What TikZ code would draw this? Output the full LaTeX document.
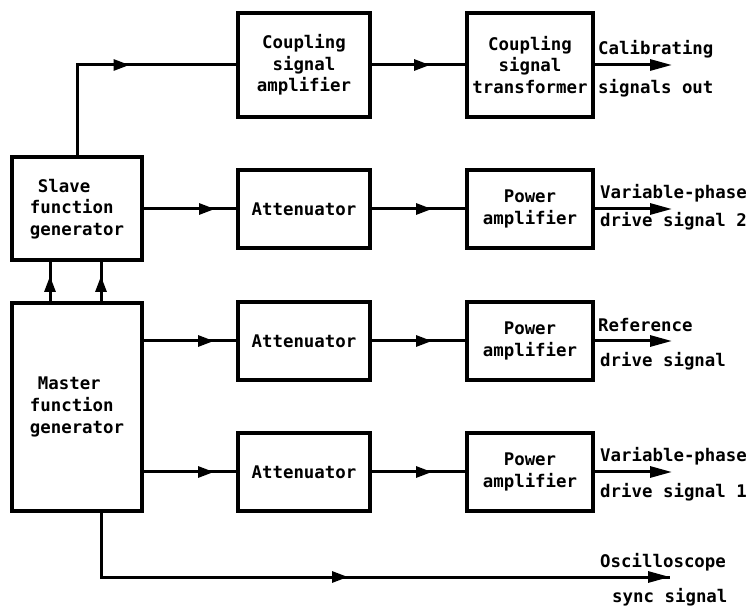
\documentclass[tikz,border=0pt]{standalone}
\usepackage{fontspec}
\setmainfont{DejaVu Sans Mono}
\usetikzlibrary{arrows.meta,positioning,decorations.markings}

\tikzset{
  block/.style={draw, line width=4pt, minimum width=132pt, minimum height=78pt,
                align=center, inner sep=2pt},
  wire/.style={line width=3pt},
  midarrow/.style={postaction={decorate}, decoration={markings,
                   mark=at position #1 with {\arrow{Triangle[length=16pt,width=11pt]}}}},
  outarrow/.style={wire, -{Triangle[length=22pt,width=11pt]}},
  lbl/.style={anchor=base west, inner sep=0pt}
}

\begin{document}
\begin{tikzpicture}[x=1pt, y=-1pt, font=\fontsize{17.4}{21.7}\selectfont\bfseries]
  \useasboundingbox (0,0) rectangle (750,609);

  % generators
  \node[block, minimum width=130pt, minimum height=103pt, align=left] (slave) at (77,209)
    {\hspace*{8pt}Slave\\function\\generator};
  \node[block, minimum width=130pt, minimum height=208pt, align=left] (master) at (77,407)
    {\hspace*{8pt}Master\\function\\generator};

  % top row
  \node[block, minimum height=104pt] (cpamp) at (304,65) {Coupling\\signal\\amplifier};
  \node[block, minimum width=126pt, minimum height=104pt] (cptrans) at (530,65)
    {Coupling\\signal\\transformer};

  % attenuators and power amplifiers
  \node[block] (att1) at (304,209) {Attenuator};
  \node[block, minimum width=126pt] (pa1) at (530,209) {Power\\amplifier};
  \node[block] (att2) at (304,341) {Attenuator};
  \node[block, minimum width=126pt] (pa2) at (530,341) {Power\\amplifier};
  \node[block] (att3) at (304,472) {Attenuator};
  \node[block, minimum width=126pt] (pa3) at (530,472) {Power\\amplifier};

  % master -> slave
  \draw[wire, midarrow=25pt] ([xshift=-27pt]master.north) -- ([xshift=-27pt]slave.south);
  \draw[wire, midarrow=25pt] ([xshift=24pt]master.north) -- ([xshift=24pt]slave.south);

  % signal paths
  \draw[wire, midarrow=143pt] (slave.north) |- (cpamp.west);
  \draw[wire, midarrow=58pt] (cpamp.east) -- (cptrans.west);
  \draw[wire, midarrow=71pt] (slave.east) -- (att1.west);
  \draw[wire, midarrow=60pt] (att1.east) -- (pa1.west);
  \draw[wire, midarrow=70pt] (master.east |- att2.west) -- (att2.west);
  \draw[wire, midarrow=60pt] (att2.east) -- (pa2.west);
  \draw[wire, midarrow=70pt] (master.east |- att3.west) -- (att3.west);
  \draw[wire, midarrow=60pt] (att3.east) -- (pa3.west);

  % outputs
  \draw[outarrow] (cptrans.east) -- ++(77,0) coordinate (calout);
  \draw[outarrow] (pa1.east) -- ++(77,0) coordinate (drv2);
  \draw[outarrow] (pa2.east) -- ++(77,0) coordinate (drvref);
  \draw[outarrow] (pa3.east) -- ++(77,0) coordinate (drv1);
  \coordinate (syncout) at (670,577);
  \draw[wire, midarrow=311pt] ([xshift=24pt]master.south) |- (syncout);
  \draw[outarrow] ([xshift=-2pt]syncout) -- (syncout);

  % output labels
  \node[lbl] (calA) at (598,55) {Calibrating};
  \node[lbl] (calB) at (598,94) {signals out};
  \node[lbl] (v2A) at (600,199) {Variable-phase};
  \node[lbl] (v2B) at (600,227) {drive signal 2};
  \node[lbl] (refA) at (598,332) {Reference};
  \node[lbl] (refB) at (600,367) {drive signal};
  \node[lbl] (v1A) at (600,462) {Variable-phase};
  \node[lbl] (v1B) at (600,497) {drive signal 1};
  \node[lbl] (oscA) at (600,567) {Oscilloscope};
  \node[lbl] (oscB) at (612,602) {sync signal};
\end{tikzpicture}
\end{document}
